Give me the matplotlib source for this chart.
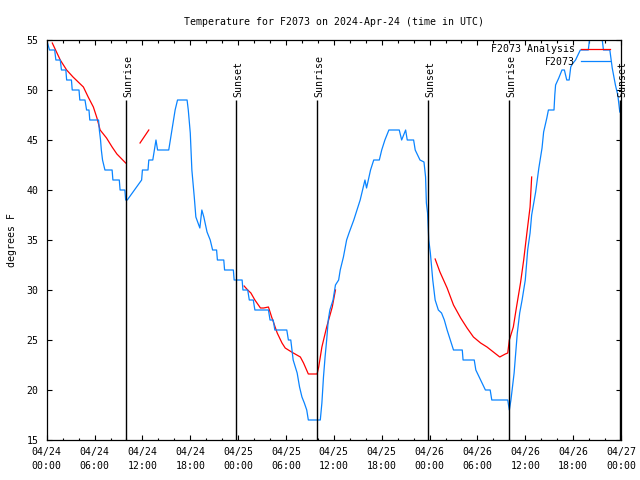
import matplotlib
matplotlib.use('Agg')
import matplotlib.pyplot as plt
import matplotlib.dates as mdates
import matplotlib.transforms as mtransforms
import numpy as np
import pandas as pd

start = pd.Timestamp('2024-04-24 00:00')

# observed temperature (hours after 04/24 00:00 UTC, degrees F)
obs_hours = [0.0, 0.35, 1.0, 1.15, 1.7, 1.85, 2.4, 2.5, 3.1, 3.2, 4.05, 4.15, 4.8, 5.0, 5.3, 5.4,
             6.5, 6.6, 6.75, 6.85, 7.0, 7.3, 8.2, 8.3, 9.1, 9.2, 9.8, 9.9, 10.1, 11.9, 12.0, 12.7,
             12.8, 13.3, 13.7, 13.9, 15.3, 15.5, 15.7, 15.9, 16.1, 16.4, 17.6, 17.75, 18.0, 18.2,
             18.5, 18.7, 19.2, 19.45, 19.7, 20.1, 20.5, 20.8, 21.3, 21.4, 22.2, 22.3, 23.4, 23.5,
             24.5, 24.6, 25.2, 25.4, 25.9, 26.1, 27.8, 28.0, 28.4, 28.6, 30.1, 30.3, 30.6, 30.9,
             31.4, 31.7, 32.0, 32.3, 32.6, 32.8, 34.3, 34.5, 34.7, 34.9, 35.1, 35.3, 35.5, 35.9,
             36.2, 36.6, 36.8, 37.2, 37.6, 37.9, 38.5, 38.9, 39.3, 39.6, 39.9, 40.1, 40.4, 40.6,
             41.0, 41.7, 42.0, 42.4, 42.9, 44.2, 44.5, 45.0, 45.2, 46.0, 46.2, 46.8, 47.3, 47.5,
             47.6, 47.75, 47.9, 48.1, 48.4, 48.7, 49.1, 49.5, 49.85, 50.2, 50.6, 51.0, 52.1, 52.2,
             53.6, 53.8, 54.4, 55.0, 55.6, 55.8, 57.8, 58.0, 58.2, 58.6, 59.0, 59.3, 59.6, 60.0,
             60.3, 60.6, 60.8, 61.3, 61.7, 62.1, 62.3, 62.7, 62.9, 63.6, 63.7, 63.8, 64.2, 64.6,
             64.9, 65.2, 65.5, 65.7, 65.9, 66.3, 66.6, 66.9, 67.9, 68.2, 69.5, 69.8, 70.6, 70.9,
             71.3, 71.6, 71.85]
obs_temp = [55, 54, 54, 53, 53, 52, 52, 51, 51, 50, 50, 49, 49, 48, 48, 47,
            47, 46, 45, 44, 43, 42, 42, 41, 41, 40, 40, 39, 39, 41, 42, 42,
            43, 43, 45, 44, 44, 45, 46, 47, 48, 49, 49, 48, 45.7, 42,
            39.3, 37.3, 36.2, 38, 37.3, 35.8, 35, 34, 34, 33, 33, 32, 32, 31,
            31, 30, 30, 29, 29, 28, 28, 27, 27, 26, 26, 25, 25, 23,
            21.7, 20.3, 19.3, 18.7, 18, 17, 17, 18.7, 21.3, 23.3, 25, 27, 28, 29,
            30.5, 31, 32, 33.3, 35, 35.7, 37, 38, 39, 40, 41, 40.2, 41.3, 42,
            43, 43, 44, 45, 46, 46, 45, 46, 45, 45, 44, 43, 42.8, 41.3,
            38.7, 37.7, 35, 33.7, 31, 29, 28, 27.7, 27, 26, 25, 24, 24, 23,
            23, 22, 21, 20, 20, 19, 19, 18, 19, 21.7, 25.7, 27.7, 29, 31,
            34, 35.7, 37.5, 39.8, 42.2, 44.2, 45.8, 47.2, 48, 48, 49.5, 50.5, 51.2, 52,
            52, 51, 51, 52.3, 52.6, 53, 53.5, 54, 54, 56, 56, 54, 54, 52.2,
            50.5, 49.5, 47.8]

# analysis temperature, NaN marks gaps
ana_hours = [0.7, 1.7, 2.5, 3.3, 4.6, 5.2, 5.85, 6.3, 6.7, 7.5, 8.2, 8.8, 9.9,
             10.8, 11.7, 12.8,
             18.0, 24.75, 25.2, 25.6, 26.1, 26.8, 27.2, 27.8, 28.2, 28.9, 29.5, 29.9, 30.7,
             31.8, 32.2, 32.8, 33.9, 34.1, 34.5, 35.1, 35.8, 36.2,
             42.0, 48.7, 49.3, 50.2, 51.0, 51.9, 52.7, 53.5, 54.4, 55.2, 56.0, 56.8, 57.5,
             57.8, 58.0, 58.5, 58.9, 59.4, 59.8, 60.2, 60.6, 60.8]
ana_temp = [54.7, 53, 52, 51.3, 50.3, 49.3, 48.3, 47.2, 46, 45.2, 44.3, 43.6, 42.7,
            np.nan, 44.7, 46,
            np.nan, 30.4, 30, 29.7, 29, 28.2, 28.2, 28.3, 27.3, 25.7, 24.7, 24.2, 23.8,
            23.3, 22.7, 21.6, 21.6, 22.3, 24.3, 26.3, 28.3, 30.0,
            np.nan, 33.1, 31.8, 30.2, 28.5, 27.2, 26.2, 25.3, 24.7, 24.3, 23.8, 23.3, 23.6,
            23.7, 25, 26.3, 28.3, 30.7, 33, 35.7, 38.3, 41.3]

sun_hours = [9.9, 23.7, 33.85, 47.75, 57.9, 71.85]
sun_labels = ['Sunrise', 'Sunset', 'Sunrise', 'Sunset', 'Sunrise', 'Sunset']


def to_time(hours):
    return start + pd.to_timedelta(np.array(hours), unit='h')


plt.rcParams['font.family'] = ['DejaVu Sans Mono']
fs = 7.1

fig = plt.figure(figsize=(6.4, 4.8), dpi=100)
ax = fig.add_axes([46.7 / 640, 40 / 480, 574.3 / 640, 400 / 480])

ax.plot(to_time(ana_hours), ana_temp, color='#ff0000', lw=0.9, label='F2073 Analysis')
ax.plot(to_time(obs_hours), obs_temp, color='#0a84ff', lw=0.9, label='F2073')

t_sun = to_time(sun_hours)
ax.vlines(t_sun, 15, 49, color='black', lw=1.0)
off = mtransforms.offset_copy(ax.transData, fig=fig, x=2.5, y=0, units='dots')
for t, lab in zip(t_sun, sun_labels):
    ax.text(t, 49.3, lab, rotation=90, ha='center', va='bottom', fontsize=fs, transform=off)

ax.set_xlim(start, start + pd.Timedelta(hours=72))
ax.set_ylim(15, 55)
ax.set_yticks(np.arange(15, 56, 5))
ax.xaxis.set_major_locator(mdates.HourLocator(byhour=range(0, 24, 6)))
ax.xaxis.set_minor_locator(mdates.HourLocator(byhour=range(0, 24, 2)))
ax.xaxis.set_major_formatter(mdates.DateFormatter('%m/%d\n%H:%M'))
ax.tick_params(which='both', direction='in', top=True, right=True, labelsize=fs, width=0.8)
ax.tick_params(which='major', length=3.6)
ax.tick_params(which='minor', length=1.8)
ax.tick_params(axis='x', pad=5)
ax.tick_params(axis='y', pad=6)
for lab in ax.get_xticklabels():
    lab.set_linespacing(1.5)
for sp in ax.spines.values():
    sp.set_linewidth(0.9)

ax.set_title('Temperature for F2073 on 2024-Apr-24 (time in UTC)', fontsize=fs, pad=11)
ax.set_ylabel('degrees F', fontsize=fs)
ax.yaxis.set_label_coords(-0.052, 0.5)

ax.legend(loc='upper right', bbox_to_anchor=(0.984, 0.995), markerfirst=False, frameon=False,
          fontsize=fs, handlelength=2.9, handletextpad=0.6, labelspacing=0.3,
          borderaxespad=0, borderpad=0.2)

fig.savefig('out.png', dpi=100)
